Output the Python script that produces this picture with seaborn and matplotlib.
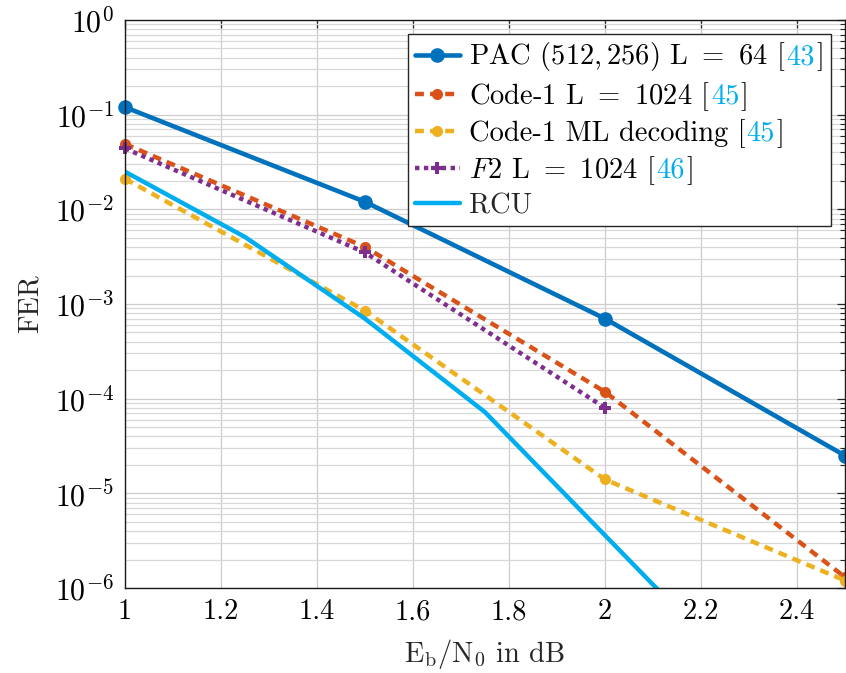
import numpy as np
import pandas as pd
import matplotlib
matplotlib.use("Agg")
import matplotlib.pyplot as plt
import seaborn as sns
from matplotlib.ticker import FixedLocator, FuncFormatter, NullFormatter
from matplotlib.offsetbox import HPacker, TextArea

# ---- data: FER versus Eb/N0 (dB) ----
ebn0_pac = [1.0, 1.5, 2.0, 2.5]
fer_pac = [0.12, 0.012, 7.0e-4, 2.5e-5]

ebn0_code1 = [1.0, 1.5, 2.0, 2.5]
fer_code1 = [4.9e-2, 4.0e-3, 1.18e-4, 1.3e-6]

ebn0_ml = [1.0, 1.5, 2.0, 2.5]
fer_ml = [2.1e-2, 8.5e-4, 1.4e-5, 1.2e-6]

ebn0_f2 = [1.0, 1.5, 2.0]
fer_f2 = [4.4e-2, 3.5e-3, 8.0e-5]

ebn0_rcu = [1.0, 1.25, 1.5, 1.75, 2.0, 2.25]
fer_rcu = [2.5e-2, 5.1e-3, 7.0e-4, 7.2e-5, 3.6e-6, 1.8e-7]

legend_main = ["PAC $(512, 256)$ L $=$ 64", "Code-1 L $=$ 1024",
               "Code-1 ML decoding", "$F2$ L $=$ 1024", "RCU"]
legend_refs = ["43", "45", "45", "46", None]

x_ticks = [1.0, 1.2, 1.4, 1.6, 1.8, 2.0, 2.2, 2.4]
y_decades = [-6, -5, -4, -3, -2, -1, 0]

# ---- style ----
sns.set_theme(style="white")
plt.rcParams.update({
    "font.family": "serif",
    "font.serif": ["cmr10"],
    "mathtext.fontset": "cm",
    "axes.formatter.use_mathtext": True,
    "axes.unicode_minus": False,
    "font.size": 20,
})

C_BLUE = "#0072BD"
C_ORANGE = "#D95319"
C_YELLOW = "#EDB120"
C_PURPLE = "#7E2F8E"
C_CYAN = "#00AEEF"
FS = 20.5

fig = plt.figure(figsize=(8.46, 6.73), dpi=100)
ax = fig.add_axes([125 / 846, 1 - 588 / 673, 720 / 846, 568 / 673])

series = [
    (ebn0_pac, fer_pac, dict(color=C_BLUE, marker="o", markersize=10.5, lw=3.3,
                             linestyle="-")),
    (ebn0_code1, fer_code1, dict(color=C_ORANGE, marker="o", markersize=8, lw=3.2,
                                 linestyle=(0, (2.0, 1.4)), dash_capstyle="butt")),
    (ebn0_ml, fer_ml, dict(color=C_YELLOW, marker="o", markersize=8, lw=3.2,
                           linestyle=(0, (2.0, 1.4)), dash_capstyle="butt")),
    (ebn0_f2, fer_f2, dict(color=C_PURPLE, marker="P", markersize=9, lw=3.2,
                           linestyle=(0, (1.0, 1.0)), dash_capstyle="butt")),
    (ebn0_rcu, fer_rcu, dict(color=C_CYAN, marker=None, lw=3.2, linestyle="-")),
]

handles = []
for x, y, kw in series:
    df = pd.DataFrame({"ebn0": x, "fer": y})
    n_before = len(ax.lines)
    sns.lineplot(data=df, x="ebn0", y="fer", ax=ax, markeredgewidth=0,
                 errorbar=None, **kw)
    handles.append(ax.lines[n_before])

# endpoint markers sit on the frame and are not clipped; RCU runs off the bottom
for h in handles[:4]:
    h.set_clip_on(False)

ax.set_yscale("log")
ax.set_xlim(1, 2.5)
ax.set_ylim(1e-6, 1)

ax.xaxis.set_major_locator(FixedLocator(x_ticks))
ax.xaxis.set_major_formatter(FuncFormatter(lambda v, p: f"{v:g}"))

major_y = [10.0 ** d for d in y_decades]
minor_y = [m * 10.0 ** d for d in y_decades[:-1] for m in range(2, 10)]
ax.yaxis.set_major_locator(FixedLocator(major_y))
ax.yaxis.set_minor_locator(FixedLocator(minor_y))
ax.yaxis.set_minor_formatter(NullFormatter())
ax.yaxis.set_major_formatter(
    FuncFormatter(lambda v, p: rf"$10^{{{int(round(np.log10(v)))}}}$"))

ax.grid(True, which="major", axis="both", color="#cccccc", lw=0.9)
ax.grid(True, which="minor", axis="y", color="#d8d8d8", lw=0.9)
ax.set_axisbelow(True)

ax.tick_params(which="both", direction="in", top=True, right=True,
               colors="#262626", labelcolor="black", labelsize=FS)
ax.tick_params(axis="y", which="major", labelsize=21.5)
ax.tick_params(which="major", length=6, width=0.9, pad=8)
ax.tick_params(which="minor", length=3.5, width=0.8)
for s in ax.spines.values():
    s.set_color("#1a1a1a")
    s.set_linewidth(1.0)
    s.set_visible(True)

ax.set_xlabel(r"$\mathrm{E_b/N_0}$ in dB", fontsize=FS, color="#262626", labelpad=8)
ax.set_ylabel("FER", fontsize=FS, color="#262626", labelpad=8)

full_labels = [m if r is None else f"{m} [{r}]" for m, r in zip(legend_main, legend_refs)]
leg = ax.legend(handles, full_labels, loc="upper right", fontsize=FS,
                frameon=True, fancybox=False, framealpha=1, edgecolor="#262626",
                handlelength=1.6, handletextpad=0.3, labelspacing=0.22,
                borderpad=0.22, borderaxespad=0.5, numpoints=1)
leg.get_frame().set_linewidth(1.0)

# split each legend label so the citation numbers get their own colour
prop = leg.prop
columns = leg._legend_handle_box.get_children()
rows = [row for col in columns for row in col.get_children()]
for i, (row, main, ref) in enumerate(zip(rows, legend_main, legend_refs)):
    if ref is None:
        continue
    parts = [(f"{main} [", "black"), (ref, C_CYAN), ("]", "black")]
    boxes = [TextArea(s, textprops=dict(color=c, fontproperties=prop,
                                        verticalalignment="baseline",
                                        horizontalalignment="left"))
             for s, c in parts]
    packed = HPacker(children=boxes, pad=0, sep=1, align="baseline")
    packed.set_figure(fig)
    kids = row.get_children()
    kids[1] = packed
    leg.texts[i] = boxes[0]._text

fig.savefig("out.png", dpi=100)
